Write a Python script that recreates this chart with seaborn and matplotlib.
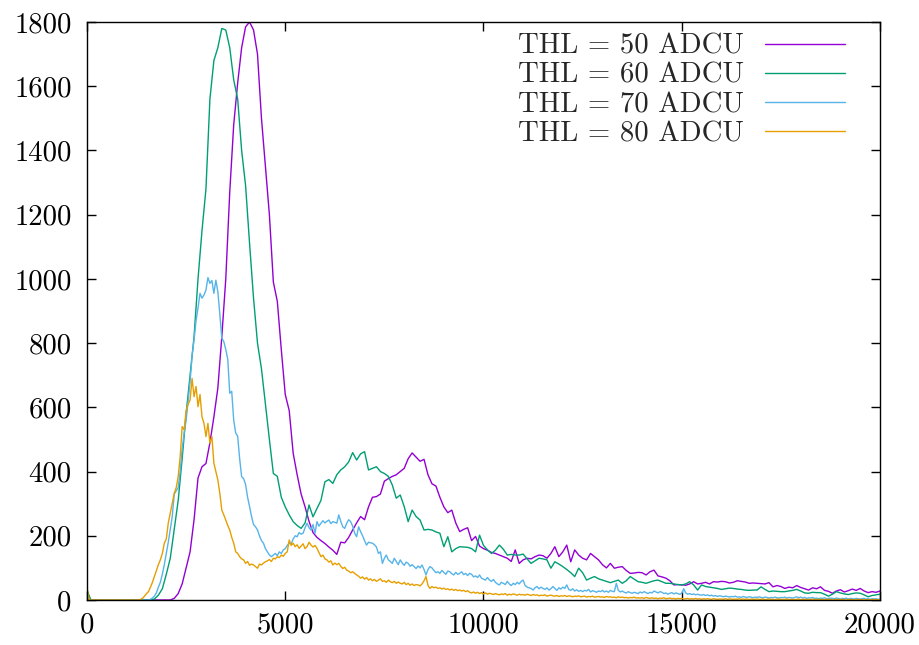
import numpy as np
import pandas as pd
import matplotlib
matplotlib.use("Agg")
import matplotlib.pyplot as plt
import seaborn as sns

# Histogram bin widths (ADC units) of the four spectra
bin_width_50 = 100
bin_width_60 = 100
bin_width_70 = 50
bin_width_80 = 50

# Counts per bin, THL = 50 ADCU
thl50_counts = [
    0, 0, 0, 0, 0, 0, 0, 0, 0, 0,
    0, 0, 0, 0, 0, 0, 0, 0, 0, 0,
    0, 0, 5, 20, 50, 100, 150, 250, 380, 415,
    425, 490, 570, 660, 820, 1000, 1270, 1480, 1610, 1720,
    1785, 1800, 1775, 1700, 1500, 1350, 1200, 990, 930, 780,
    640, 590, 457, 390, 330, 290, 245, 210, 195, 185,
    176, 165, 155, 142, 180, 178, 195, 218, 240, 260,
    250, 290, 320, 322, 330, 370, 378, 385, 390, 400,
    410, 440, 458, 445, 432, 438, 390, 362, 355, 320,
    290, 272, 280, 240, 213, 220, 225, 185, 198, 168,
    160, 155, 148, 145, 140, 135, 130, 120, 156, 114,
    125, 130, 128, 135, 140, 138, 130, 145, 166, 135,
    150, 171, 119, 156, 140, 130, 125, 145, 135, 125,
    110, 100, 114, 99, 102, 104, 92, 83, 84, 86,
    85, 78, 88, 93, 75, 72, 68, 60, 47, 48,
    47, 46, 50, 57, 50, 52, 55, 50, 57, 56,
    58, 57, 53, 55, 60, 58, 56, 52, 53, 52,
    51, 50, 54, 41, 45, 42, 36, 40, 38, 45,
    39, 35, 31, 38, 35, 41, 30, 27, 21, 28,
    32, 25, 29, 34, 30, 36, 28, 23, 26, 24,
    28,
]

# Counts per bin, THL = 60 ADCU
thl60_counts = [
    30, 0, 0, 0, 0, 0, 0, 0, 0, 0,
    0, 0, 0, 0, 0, 0, 0, 3, 15, 35,
    80, 130, 220, 310, 440, 580, 700, 820, 1000, 1150,
    1280, 1560, 1680, 1720, 1780, 1775, 1720, 1620, 1560, 1400,
    1290, 1110, 940, 800, 720, 610, 500, 394, 385, 320,
    290, 265, 244, 232, 223, 240, 296, 259, 285, 310,
    368, 375, 363, 390, 405, 415, 430, 459, 436, 455,
    462, 405, 410, 415, 400, 394, 385, 358, 317, 327,
    291, 244, 280, 260, 249, 218, 220, 218, 212, 208,
    166, 197, 150, 160, 166, 165, 164, 160, 150, 202,
    170, 156, 145, 155, 171, 158, 140, 142, 140, 140,
    143, 128, 114, 122, 130, 128, 125, 99, 119, 112,
    104, 95, 85, 73, 99, 85, 62, 68, 73, 66,
    62, 58, 54, 58, 62, 52, 60, 73, 65, 57,
    55, 52, 56, 60, 62, 57, 52, 52, 50, 48,
    47, 50, 57, 47, 31, 47, 42, 40, 38, 36,
    33, 35, 37, 36, 34, 33, 31, 30, 31, 31,
    41, 33, 26, 28, 27, 26, 26, 28, 30, 33,
    28, 22, 21, 24, 23, 23, 18, 12, 18, 26,
    22, 19, 17, 20, 22, 21, 16, 10, 14, 16,
    18,
]

# Counts per bin, THL = 70 ADCU
thl70_counts = [
    20, 0, 0, 0, 0, 0, 0, 0, 0, 0, 0, 0, 0, 0, 0, 0, 0, 0, 0, 0,
    0, 0, 0, 0, 0, 0, 0, 0, 0, 0, 0, 0, 2, 6, 12, 22, 40, 55, 80, 110,
    145, 180, 220, 260, 330, 340, 350, 400, 470, 520, 560, 620, 680, 760, 810, 870, 910, 955, 940, 950,
    965, 1004, 986, 995, 955, 996, 960, 890, 815, 805, 780, 750, 644, 650, 560, 520, 510, 440, 384, 378,
    360, 320, 291, 260, 235, 228, 218, 200, 185, 177, 160, 150, 140, 135, 140, 145, 138, 150, 145, 156,
    160, 170, 177, 175, 190, 200, 197, 210, 205, 208, 225, 239, 225, 218, 235, 208, 244, 230, 239, 247,
    240, 245, 249, 238, 244, 242, 239, 265, 245, 228, 223, 239, 250, 244, 230, 208, 197, 228, 213, 200,
    185, 171, 180, 178, 177, 172, 165, 145, 150, 114, 130, 140, 125, 120, 114, 130, 120, 110, 125, 115,
    108, 118, 114, 105, 110, 104, 98, 106, 100, 109, 95, 78, 95, 104, 100, 92, 85, 88, 83, 92,
    86, 80, 90, 88, 82, 78, 86, 80, 83, 88, 79, 83, 76, 83, 80, 72, 75, 70, 78, 68,
    65, 62, 70, 62, 58, 64, 55, 50, 47, 55, 52, 48, 58, 50, 45, 52, 48, 55, 50, 58,
    62, 45, 40, 38, 36, 31, 38, 42, 35, 40, 36, 33, 38, 31, 35, 42, 36, 30, 38, 34,
    40, 36, 47, 33, 30, 35, 28, 32, 27, 30, 26, 30, 28, 33, 25, 29, 27, 24, 28, 26,
    30, 25, 28, 24, 30, 27, 26, 52, 30, 25, 28, 24, 22, 26, 23, 21, 24, 22, 20, 25,
    22, 26, 23, 20, 24, 22, 28, 25, 22, 26, 24, 20, 22, 18, 21, 23, 19, 22, 20, 18,
    21, 35, 22, 18, 20, 17, 19, 16, 18, 16, 15, 17, 14, 16, 13, 15, 12, 14, 11, 13,
    12, 10, 12, 11, 9, 11, 10, 12, 9, 10, 8, 11, 9, 8, 10, 9, 7, 9, 8, 10,
    8, 7, 9, 8, 6, 8, 7, 9, 7, 6, 8, 7, 9, 6, 8, 7, 6, 8, 10, 7,
    9, 6, 8, 5, 7, 6, 8, 5, 6, 4, 6, 5, 7, 4, 5, 6, 5, 4, 6, 5,
    3, 5, 4, 6, 3, 5, 4, 3, 5, 4, 3, 4, 5, 3, 4, 2, 4, 3, 4, 2,
    3,
]

# Counts per bin, THL = 80 ADCU
thl80_counts = [
    40, 0, 0, 0, 0, 0, 0, 0, 0, 0, 0, 0, 0, 0, 0, 0, 0, 0, 0, 0,
    0, 0, 0, 0, 0, 0, 0, 2, 5, 12, 20, 26, 40, 55, 73, 90, 110, 125, 145, 177,
    190, 240, 270, 301, 332, 350, 384, 446, 540, 530, 590, 610, 623, 690, 633, 665, 602, 640, 571, 550,
    509, 550, 488, 509, 426, 400, 374, 332, 280, 265, 249, 232, 218, 195, 177, 150, 145, 135, 128, 125,
    114, 120, 108, 112, 109, 104, 99, 112, 109, 115, 119, 122, 126, 120, 130, 128, 135, 132, 140, 136,
    145, 150, 187, 170, 177, 166, 172, 161, 168, 175, 160, 166, 180, 171, 165, 170, 161, 148, 135, 140,
    128, 125, 118, 122, 109, 115, 110, 114, 105, 98, 102, 93, 90, 85, 88, 83, 78, 74, 68, 72,
    65, 70, 62, 66, 60, 64, 58, 62, 66, 58, 60, 55, 62, 57, 54, 58, 52, 56, 52, 50,
    55, 48, 52, 46, 50, 45, 48, 47, 44, 50, 60, 73, 45, 36, 42, 38, 40, 36, 38, 34,
    37, 33, 35, 31, 34, 30, 33, 29, 31, 28, 30, 26, 29, 24, 22, 25, 21, 24, 20, 23,
    19, 22, 18, 21, 19, 17, 20, 18, 16, 19, 17, 20, 15, 18, 16, 19, 17, 15, 18, 16,
    17, 15, 18, 16, 14, 17, 15, 16, 13, 15, 14, 16, 12, 14, 15, 13, 12, 14, 11, 13,
    12, 14, 11, 13, 12, 10, 12, 11, 13, 10, 11, 12, 9, 11, 10, 12, 9, 10, 11, 9,
    10, 8, 11, 9, 10, 8, 9, 7, 10, 8, 9, 7, 8, 6, 8, 7, 9, 6, 7, 6,
    7, 5, 8, 6, 5, 7, 5, 6, 4, 6, 5, 7, 4, 5, 6, 4, 5, 3, 5, 4,
    5, 3, 4, 5, 3, 4, 3, 5, 3, 4, 2, 4, 3, 4, 3, 2, 4, 3, 2, 3,
    3, 2, 4, 2, 3, 3, 2, 3, 2, 4, 2, 3, 2, 3, 1, 3, 2, 2, 3, 2,
    2, 3, 1, 2, 3, 2, 2, 1, 3, 2, 2, 1, 2, 3, 1, 2, 2, 1, 2, 3,
    1, 2, 2, 1, 2, 1, 3, 1, 2, 1, 2, 1, 1, 2, 1, 2, 0, 1, 2, 1,
    1, 2, 1, 0, 1, 2, 1, 1, 0, 2, 1, 1, 0, 1, 1, 0, 1, 2, 0, 1,
    1,
]

series_labels = ["THL = 50 ADCU", "THL = 60 ADCU", "THL = 70 ADCU", "THL = 80 ADCU"]
series_colors = ["#9400d3", "#009e73", "#56b4e9", "#e69f00"]

x_ticks = [0, 5000, 10000, 15000, 20000]
y_ticks = [0, 200, 400, 600, 800, 1000, 1200, 1400, 1600, 1800]

# Long-form table: one row per histogram bin
frames = []
for counts, width, label in zip(
    [thl50_counts, thl60_counts, thl70_counts, thl80_counts],
    [bin_width_50, bin_width_60, bin_width_70, bin_width_80],
    series_labels,
):
    frames.append(pd.DataFrame({
        "adc": np.arange(len(counts)) * width,
        "counts": counts,
        "threshold": label,
    }))
data = pd.concat(frames, ignore_index=True)

sns.set_style("ticks")
plt.rcParams["font.family"] = ["cmr10", "DejaVu Sans"]
plt.rcParams["mathtext.fontset"] = "cm"
plt.rcParams["axes.formatter.use_mathtext"] = True

text_size = 20.7

fig = plt.figure(figsize=(9.2, 6.45), dpi=100)
ax = fig.add_axes([87 / 920, 45 / 645, 793 / 920, 578 / 645])

sns.lineplot(
    data=data, x="adc", y="counts", hue="threshold",
    hue_order=series_labels, palette=series_colors,
    linewidth=1.0, estimator=None, sort=True, ax=ax,
)

ax.set_xlim(0, 20000)
ax.set_ylim(0, 1800)
ax.set_xticks(x_ticks, labels=[str(t) for t in x_ticks])
ax.set_yticks(y_ticks, labels=[str(t) for t in y_ticks])
ax.set_xlabel("")
ax.set_ylabel("")

for side in ["top", "right", "bottom", "left"]:
    ax.spines[side].set_visible(True)
    ax.spines[side].set_color("black")
    ax.spines[side].set_linewidth(1.0)

ax.tick_params(axis="both", which="major", direction="in", length=6.5,
               width=1.0, color="black", top=True, right=True,
               labelsize=text_size, labelcolor="black")
ax.tick_params(axis="x", pad=9)
ax.tick_params(axis="y", pad=11)

ax.legend(
    loc="upper right", bbox_to_anchor=(0.956, 0.980), frameon=False,
    markerfirst=False, handlelength=2.8, handletextpad=0.72,
    labelspacing=0.095, borderaxespad=0.0, borderpad=0.0, fontsize=text_size,
)

fig.savefig("out.png", dpi=100)
